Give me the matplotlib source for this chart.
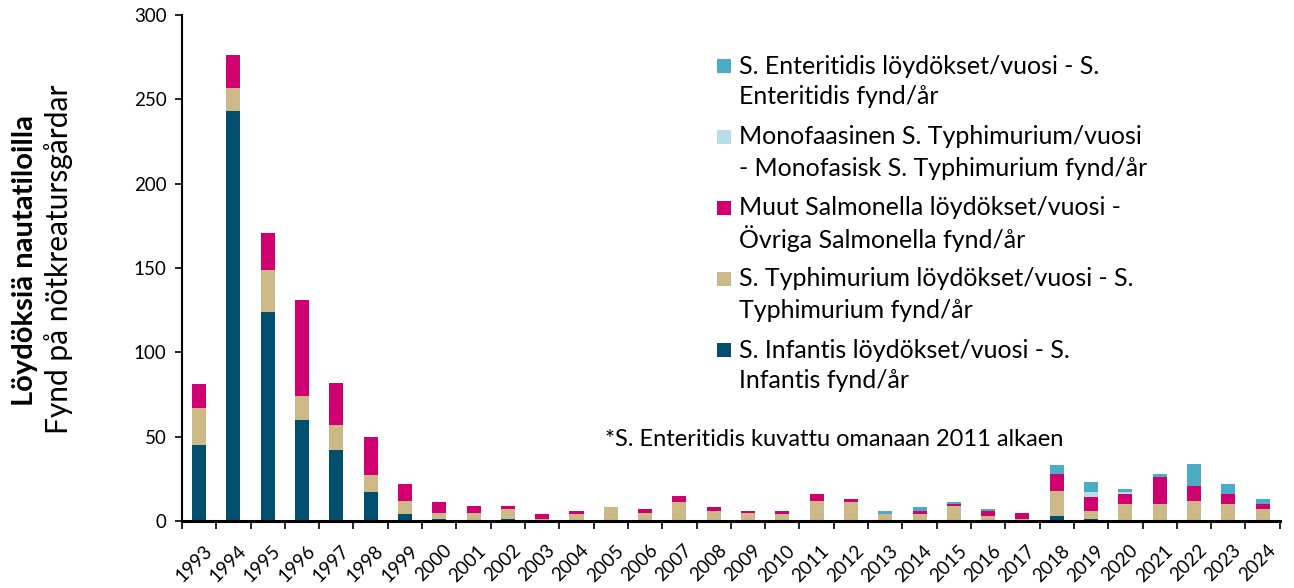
import matplotlib
matplotlib.use("Agg")
import matplotlib.pyplot as plt
from matplotlib.patches import Rectangle
import matplotlib.transforms as mtransforms
import numpy as np

years = [str(y) for y in range(1993, 2025)]
infantis = [45, 243, 124, 60, 42, 17, 4, 1, 0, 1, 0, 0, 0, 0, 0, 0, 0, 0, 0, 0,
            0, 0, 0, 0, 0, 3, 1, 0, 0, 0, 0, 0]
typhimurium = [22, 14, 25, 14, 15, 10, 8, 4, 5, 6, 1, 4, 8, 5, 11, 6, 5, 4, 12, 11,
               4, 4, 9, 3, 1, 15, 5, 10, 10, 12, 10, 7]
muut = [14, 19, 22, 57, 25, 23, 10, 6, 4, 2, 3, 2, 0, 2, 4, 2, 1, 2, 4, 2,
        0, 2, 1, 3, 4, 10, 8, 6, 16, 9, 6, 3]
mono = [0, 0, 0, 0, 0, 0, 0, 0, 0, 0, 0, 0, 0, 0, 0, 0, 0, 0, 0, 0,
        0, 0, 0, 0, 0, 0, 3, 1, 0, 0, 0, 0]
enteritidis = [0, 0, 0, 0, 0, 0, 0, 0, 0, 0, 0, 0, 0, 0, 0, 0, 0, 0, 0, 0,
               2, 2, 1, 1, 0, 5, 6, 2, 2, 13, 6, 3]

labels = [
    "S. Infantis löydökset/vuosi - S.\nInfantis fynd/år",
    "S. Typhimurium löydökset/vuosi - S.\nTyphimurium fynd/år",
    "Muut Salmonella löydökset/vuosi -\nÖvriga Salmonella fynd/år",
    "Monofaasinen S. Typhimurium/vuosi\n- Monofasisk S. Typhimurium fynd/år",
    "S. Enteritidis löydökset/vuosi - S.\nEnteritidis fynd/år",
]
colors = ["#004F6E", "#CDB887", "#D10070", "#B8DDE9", "#4BACC6"]
series = [infantis, typhimurium, muut, mono, enteritidis]

plt.rcParams['font.family'] = ['Lato', 'DejaVu Sans']

W, H = 1294, 588
fig = plt.figure(figsize=(W / 100, H / 100), dpi=100)
ax = fig.add_axes([0.1406, 0.114, 0.8484, 0.8605])

x = np.arange(len(years))
bottom = np.zeros(len(years))
for vals, col, lab in zip(series, colors, labels):
    v = np.array(vals, dtype=float)
    ax.bar(x, v, width=0.41, bottom=bottom, color=col, label=lab, edgecolor='none')
    bottom += v

ax.set_xlim(-0.5, len(years) - 0.5)
ax.set_ylim(0, 300)
ax.set_yticks(range(0, 301, 50))
ax.tick_params(axis='y', labelsize=13.5, length=5, width=1.2, direction='out', pad=6)

ax.set_xticks(x)
ax.set_xticklabels(years, rotation=45, ha='right', va='top', rotation_mode='anchor', fontsize=13.5)
ax.tick_params(axis='x', which='major', length=0, pad=15)
offset = mtransforms.ScaledTranslation(4 / 100, 0, fig.dpi_scale_trans)
for lbl in ax.get_xticklabels():
    lbl.set_transform(lbl.get_transform() + offset)
ax.set_xticks(np.arange(-0.5, len(years), 1.0), minor=True)
ax.tick_params(axis='x', which='minor', length=6, width=1.2, direction='out')

for s in ['top', 'right']:
    ax.spines[s].set_visible(False)
ax.spines['left'].set_linewidth(1.5)
ax.spines['bottom'].set_linewidth(2.2)

fig.text(25 / W, 1 - 261 / H, "Löydöksiä nautatiloilla", rotation=90,
         ha='center', va='center', fontsize=21, fontweight='bold')
fig.text(59 / W, 1 - 259 / H, "Fynd på nötkreatursgårdar", rotation=90,
         ha='center', va='center', fontsize=21.5)

# Legend drawn manually (reverse order: top of stack first)
for i, (lab, col) in enumerate(zip(labels[::-1], colors[::-1])):
    y1 = 66 + 71 * i
    fig.patches.append(Rectangle(((717) / W, 1 - (y1 + 7) / H), 14 / W, 14 / H,
                                 transform=fig.transFigure, facecolor=col,
                                 edgecolor='none'))
    for j, line in enumerate(lab.split("\n")):
        fig.text(739 / W, 1 - (y1 + 31 * j) / H, line, ha='left', va='center',
                 fontsize=18)

fig.text(605 / W, 1 - 440 / H, "*S. Enteritidis kuvattu omanaan 2011 alkaen",
         ha='left', va='center', fontsize=17)

fig.savefig("out.png", dpi=100)
